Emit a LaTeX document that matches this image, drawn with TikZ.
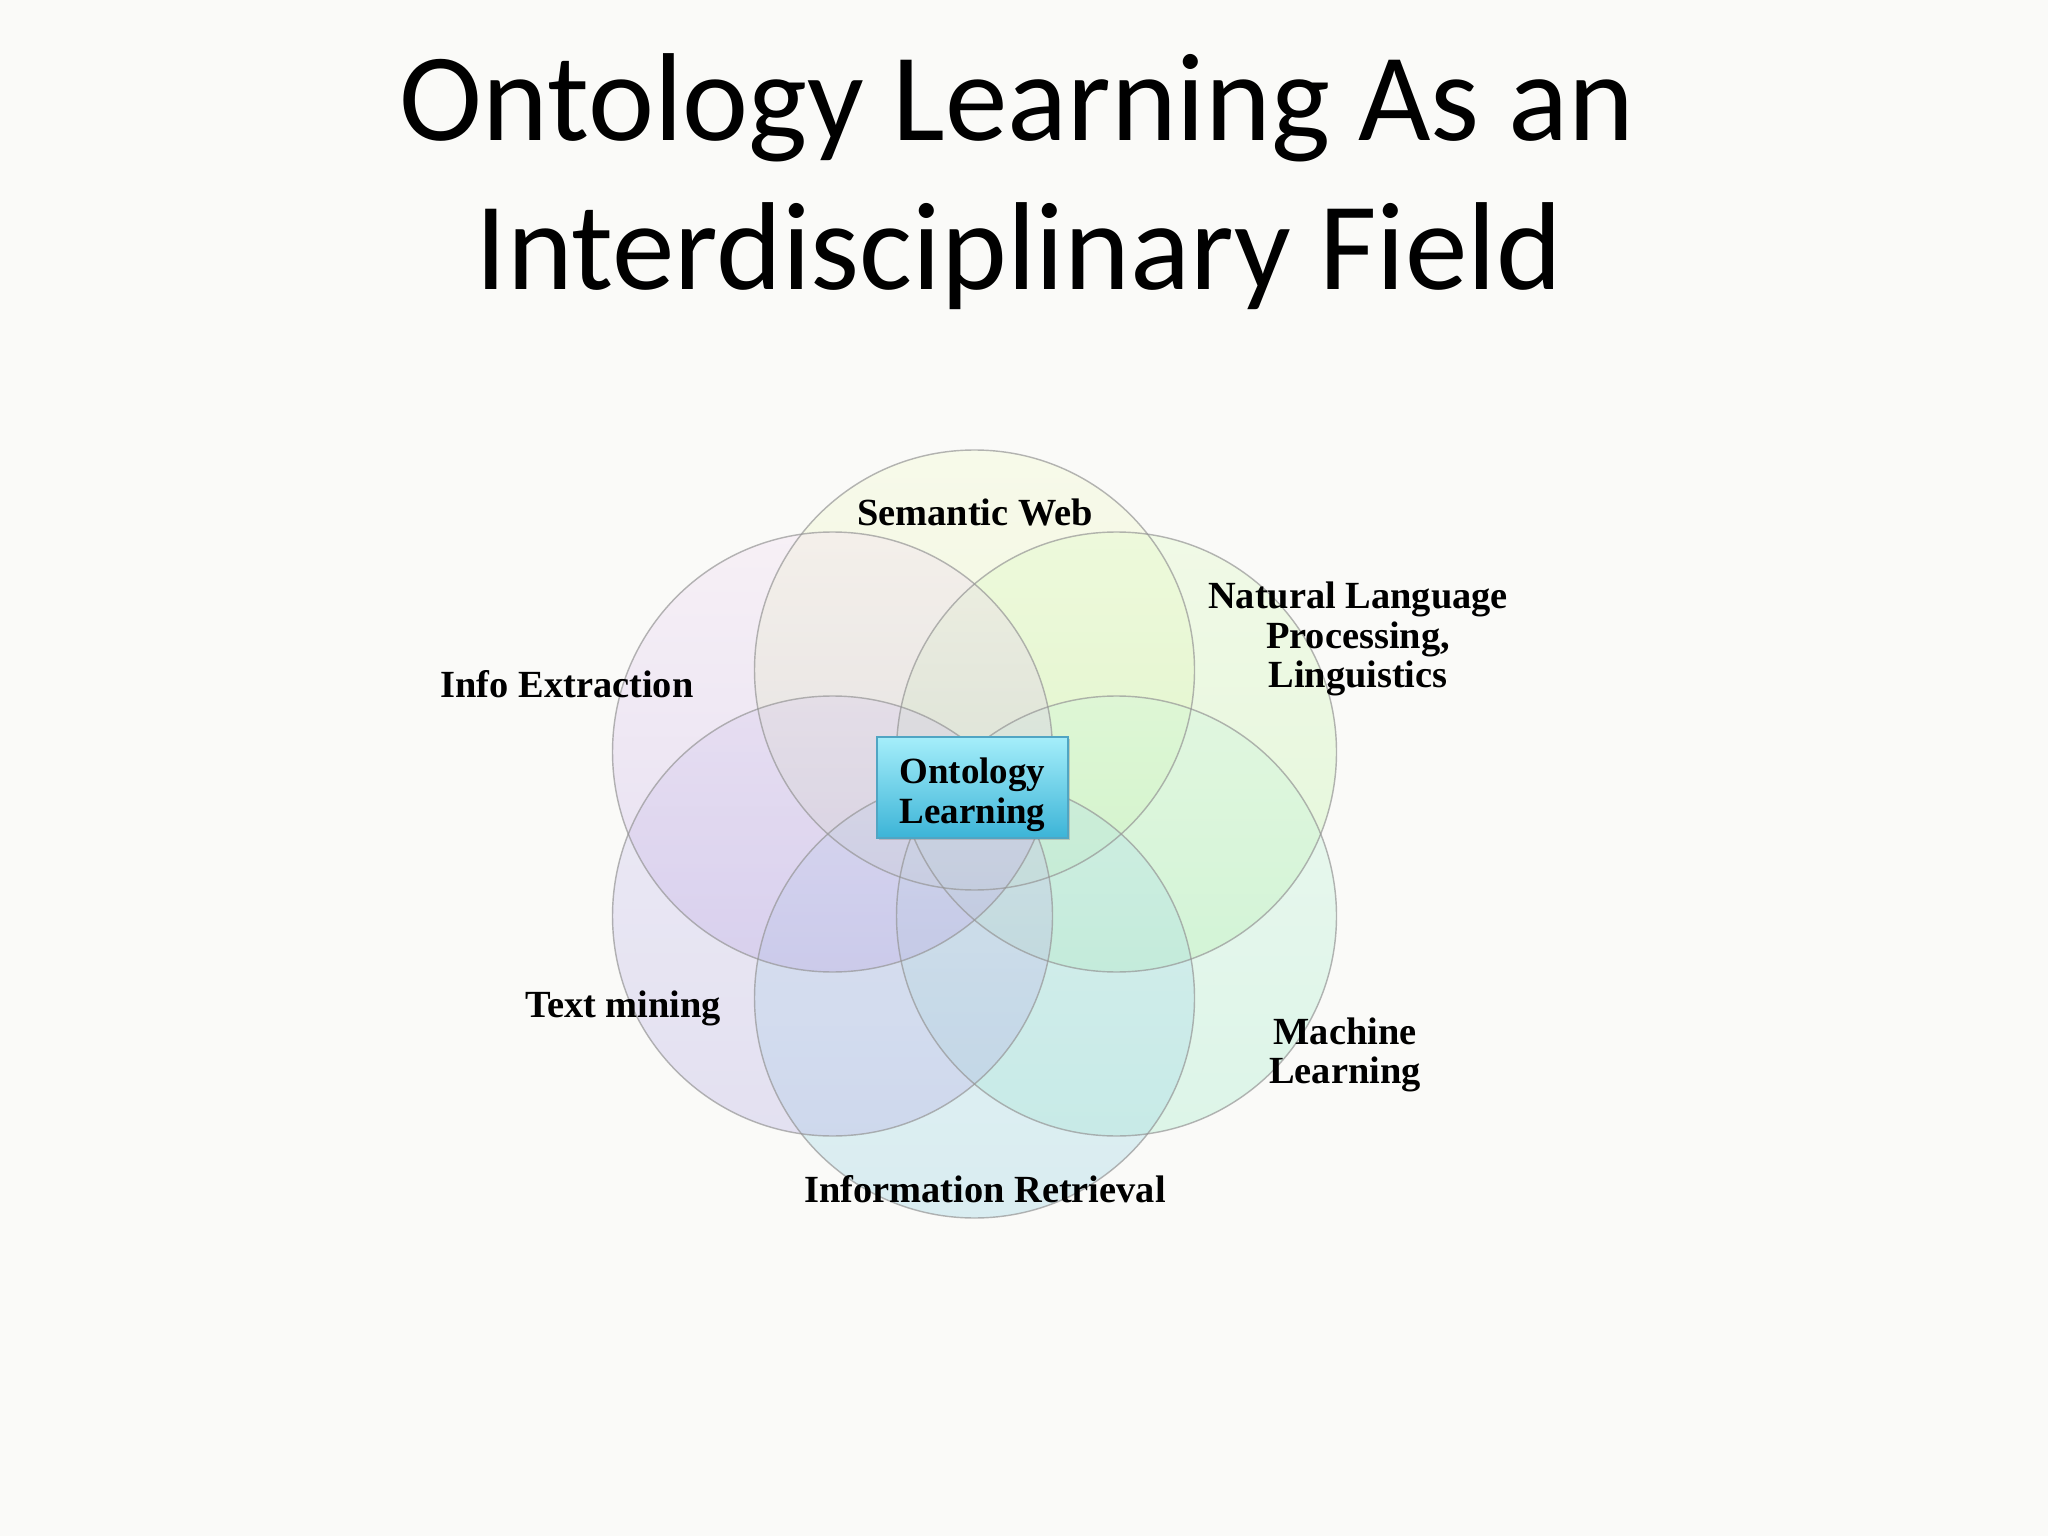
\documentclass[tikz,border=0pt]{standalone}
\usepackage{fontspec}
\setmainfont{Liberation Serif}
\newfontfamily\titlefont{Carlito}
\usetikzlibrary{shadows}
\definecolor{bg}{RGB}{250,250,248}
\definecolor{ringline}{RGB}{150,150,150}
\definecolor{swT}{RGB}{242,250,205}\definecolor{swB}{RGB}{222,242,165}
\definecolor{nlT}{RGB}{222,250,195}\definecolor{nlB}{RGB}{180,240,155}
\definecolor{mlT}{RGB}{205,245,220}\definecolor{mlB}{RGB}{160,235,200}
\definecolor{irT}{RGB}{180,225,235}\definecolor{irB}{RGB}{150,210,228}
\definecolor{tmT}{RGB}{210,202,238}\definecolor{tmB}{RGB}{180,172,228}
\definecolor{ieT}{RGB}{242,220,242}\definecolor{ieB}{RGB}{185,165,228}
\definecolor{boxT}{RGB}{165,238,250}\definecolor{boxB}{RGB}{60,180,215}
\definecolor{boxD}{RGB}{80,165,195}
\tikzset{
  ring/.style={fill opacity=0.32},
  ringedge/.style={draw=ringline, draw opacity=0.7, line width=0.5pt},
  lbl/.style={font=\fontsize{13.5}{13.8}\selectfont\bfseries, inner sep=0pt, align=center},
  centerbox/.style={draw=boxD, line width=0.5pt, top color=boxT, bottom color=boxB,
    minimum width=67.2pt, minimum height=35.5pt, inner sep=0pt,
    font=\fontsize{13}{14.2}\selectfont\bfseries, align=center,
    drop shadow={opacity=0.35, shadow xshift=0.8pt, shadow yshift=-0.8pt}},
  titletxt/.style={font=\titlefont\fontsize{44}{52.4}\selectfont, inner sep=0pt, anchor=base}
}
\begin{document}
\begin{tikzpicture}[x=0.3515625pt,y=-0.3515625pt]
\useasboundingbox (0,0) rectangle (2048,1536);
\fill[bg] (0,0) rectangle (2048,1536);
% title
\node[titletxt] (t1) at (1017,141) {Ontology Learning As an};
\node[titletxt] (t2) at (1019,290) {Interdisciplinary Field};
% circles
\coordinate (cSW) at (974.5,670);
\coordinate (cNL) at (1116.5,752);
\coordinate (cML) at (1116.5,916);
\coordinate (cIR) at (974.5,998);
\coordinate (cTM) at (832.5,916);
\coordinate (cIE) at (832.5,752);
\shade[ring, top color=swT, bottom color=swB] (cSW) circle (220);
\shade[ring, top color=nlT, bottom color=nlB] (cNL) circle (220);
\shade[ring, top color=mlT, bottom color=mlB] (cML) circle (220);
\shade[ring, top color=irT, bottom color=irB] (cIR) circle (220);
\shade[ring, top color=tmT, bottom color=tmB] (cTM) circle (220);
\shade[ring, top color=ieT, bottom color=ieB] (cIE) circle (220);
\foreach \c in {cSW,cNL,cML,cIR,cTM,cIE}{\draw[ringedge] (\c) circle (220);}
% labels
\node[lbl, anchor=base] (sw) at (975,526) {Semantic Web};
\node[lbl] (nlp) at (1358,639) {Natural Language\\Processing,\\Linguistics};
\node[lbl] (ml) at (1345,1055) {Machine\\Learning};
\node[lbl, anchor=base] (ir) at (985,1202) {Information Retrieval};
\node[lbl, anchor=base] (tm) at (623,1017) {Text mining};
\node[lbl, anchor=base] (ie) at (567,697) {Info Extraction};
% center box
\node[centerbox] (ol) at (972.5,787.5) {\raisebox{-5.75pt}[0pt][0pt]{\begin{tabular}{@{}c@{}}Ontology\\Learning\end{tabular}}};
\end{tikzpicture}
\end{document}
